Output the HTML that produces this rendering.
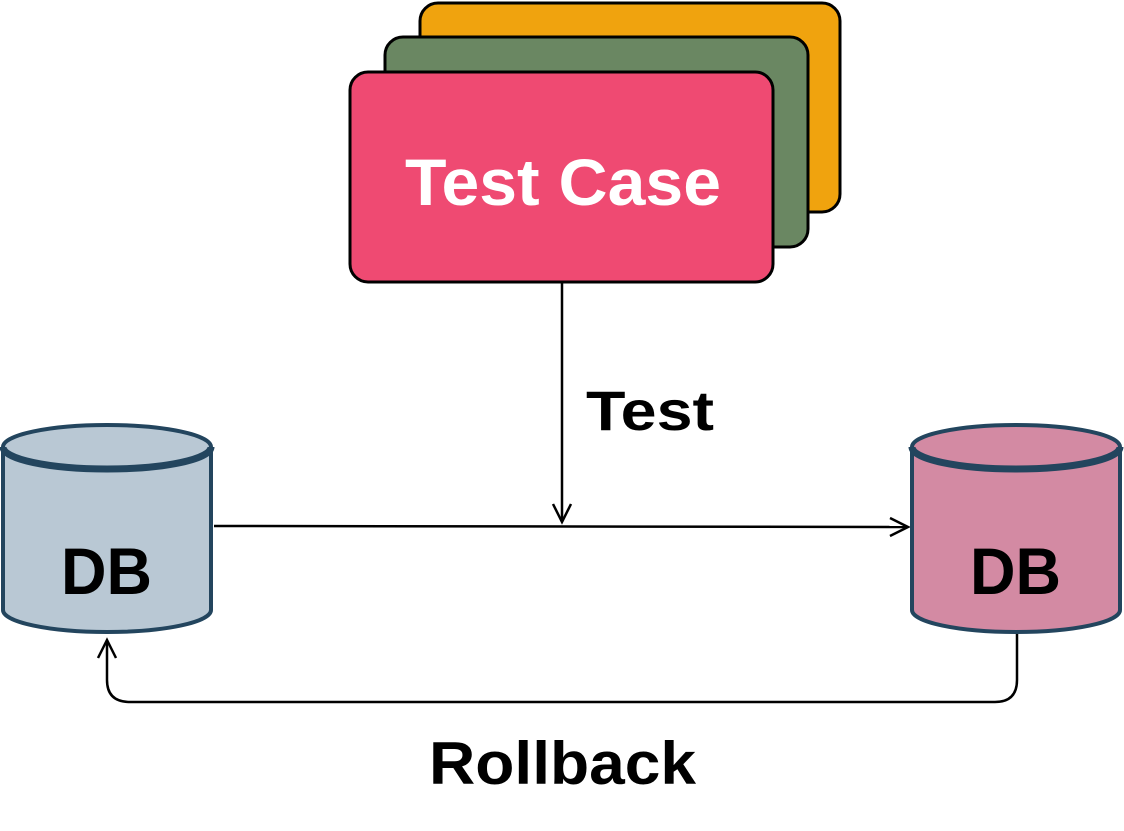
<!DOCTYPE html>
<html><head><style>
html,body{margin:0;padding:0;background:#fff;}
svg text{font-family:"Liberation Sans",sans-serif;}
</style></head><body>
<svg width="1124" height="826" viewBox="0 0 1124 826" xmlns="http://www.w3.org/2000/svg">
<defs>
<marker id="ah" markerWidth="24" markerHeight="24" refX="20" refY="12" orient="auto" markerUnits="userSpaceOnUse">
<path d="M2,3 L20,12 L2,21" fill="none" stroke="#000" stroke-width="2.5"/>
</marker>
</defs>
<rect x="420" y="3" width="420" height="209" rx="18" fill="#f0a30e" stroke="#000" stroke-width="3"/>
<rect x="385" y="37" width="423" height="210" rx="18" fill="#6a8762" stroke="#000" stroke-width="3"/>
<rect x="350" y="72" width="423" height="210" rx="18" fill="#ef4a72" stroke="#000" stroke-width="3"/>
<text x="405" y="205" font-size="66" font-weight="bold" fill="#fff" textLength="316" lengthAdjust="spacingAndGlyphs">Test Case</text>
<line x1="562" y1="282" x2="562" y2="522" stroke="#000" stroke-width="2.5" marker-end="url(#ah)"/>
<text x="586" y="430" font-size="56" font-weight="bold" fill="#000" textLength="128" lengthAdjust="spacingAndGlyphs">Test</text>
<line x1="214" y1="526" x2="908" y2="527" stroke="#000" stroke-width="2.5" marker-end="url(#ah)"/>
<path d="M1017,634 L1017,680 Q1017,702 995,702 L130,702 Q107,702 107,680 L107,640" fill="none" stroke="#000" stroke-width="2.5" marker-end="url(#ah)"/>
<text x="429" y="784" font-size="60" font-weight="bold" fill="#000" textLength="267" lengthAdjust="spacingAndGlyphs">Rollback</text>
<g stroke="#23455e" stroke-width="4">
<path d="M3,447 L3,610 A104,22 0 0 0 211,610 L211,447" fill="#b9c8d4"/>
<ellipse cx="107" cy="447" rx="104" ry="22" fill="#b9c8d4"/>
<path d="M3,447 A104,22 0 0 0 211,447" fill="none" stroke-width="7"/>
</g>
<text x="61" y="594" font-size="66" font-weight="bold" fill="#000" textLength="91" lengthAdjust="spacingAndGlyphs">DB</text>
<g stroke="#23455e" stroke-width="4">
<path d="M912,447 L912,610 A104,22 0 0 0 1120,610 L1120,447" fill="#d38aa3"/>
<ellipse cx="1016" cy="447" rx="104" ry="22" fill="#d38aa3"/>
<path d="M912,447 A104,22 0 0 0 1120,447" fill="none" stroke-width="7"/>
</g>
<text x="970" y="594" font-size="66" font-weight="bold" fill="#000" textLength="91" lengthAdjust="spacingAndGlyphs">DB</text>
</svg>
</body></html>
